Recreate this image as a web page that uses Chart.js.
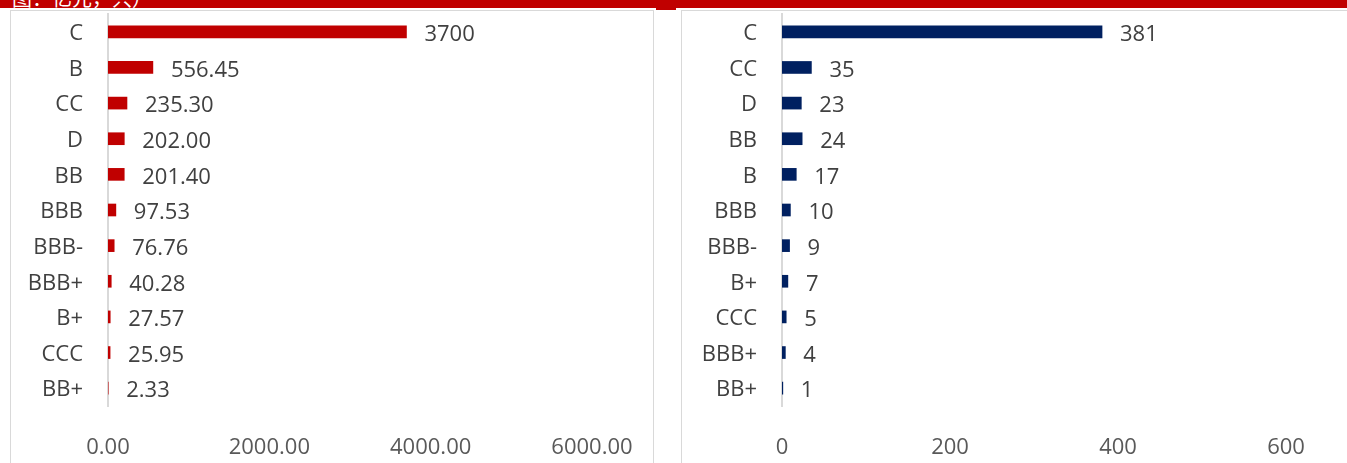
<!DOCTYPE html>
<html>
<head>
<meta charset="utf-8">
<script src="https://cdn.jsdelivr.net/npm/chart.js@4.4.1/dist/chart.umd.min.js"></script>
<style>
  body { margin: 0; background: #fff; width: 1347px; height: 463px; overflow: hidden; position: relative; }
  .band { position: absolute; left: 0; top: 0; width: 1347px; height: 8px; background: #c00000; overflow: hidden; }
  .band span { position: absolute; left: 12px; top: -17px; color: #fff; font: 20px "Noto Sans CJK SC", sans-serif; white-space: nowrap; }
  .notch { position: absolute; left: 656px; top: 0; width: 20px; height: 10px; background: #c00000; }
  .panel { position: absolute; top: 10px; height: 470px; border: 1px solid #d9d9d9; box-sizing: border-box; }
  canvas { position: absolute; }
</style>
</head>
<body>
<div class="band"><span>图：亿元，只）</span></div>
<div class="notch"></div>
<div class="panel" style="left:10px; width:644px;"></div>
<div class="panel" style="left:681px; width:680px;"></div>
<canvas id="leftChart" style="left:9px; top:10px; width:645px; height:453px;" width="645" height="453"></canvas>
<canvas id="rightChart" style="left:681px; top:10px; width:666px; height:453px;" width="666" height="453"></canvas>
<script>
// left chart: amount by rating (亿元)
const leftCategories = ['C', 'B', 'CC', 'D', 'BB', 'BBB', 'BBB-', 'BBB+', 'B+', 'CCC', 'BB+'];
const leftValues = [3700, 556.45, 235.30, 202.00, 201.40, 97.53, 76.76, 40.28, 27.57, 25.95, 2.33];
const leftValueText = ['3700', '556.45', '235.30', '202.00', '201.40', '97.53', '76.76', '40.28', '27.57', '25.95', '2.33'];

// right chart: count by rating (只)
const rightCategories = ['C', 'CC', 'D', 'BB', 'B', 'BBB', 'BBB-', 'B+', 'CCC', 'BBB+', 'BB+'];
const rightValues = [381, 35, 23, 24, 17, 10, 9, 7, 5, 4, 1];

const fontFamily = '"Open Sans", sans-serif';
const textColor = '#404040';

// draws the value text just right of each bar
const valueLabels = {
    id: 'valueLabels',
    afterDatasetsDraw(chart, args, opts) {
        const ctx = chart.ctx;
        const meta = chart.getDatasetMeta(0);
        ctx.save();
        ctx.font = '22px ' + fontFamily;
        ctx.fillStyle = textColor;
        ctx.textBaseline = 'middle';
        ctx.textAlign = 'left';
        meta.data.forEach((bar, i) => {
            ctx.fillText(opts.texts[i], bar.x + 18, bar.y + 3);
        });
        ctx.restore();
    }
};

function makeChart(id, categories, values, texts, color, max, step, yWidth, rightPad, fmt) {
    return new Chart(document.getElementById(id).getContext('2d'), {
        type: 'bar',
        data: {
            labels: categories,
            datasets: [{
                data: values,
                backgroundColor: color,
                barThickness: 12
            }]
        },
        options: {
            indexAxis: 'y',
            responsive: false,
            animation: false,
            layout: { padding: { top: 4, right: rightPad, left: 0, bottom: 0 } },
            plugins: {
                legend: { display: false },
                tooltip: { enabled: false },
                valueLabels: { texts: texts }
            },
            scales: {
                x: {
                    min: 0,
                    max: max,
                    grid: { display: false },
                    border: { display: false },
                    ticks: {
                        stepSize: step,
                        padding: 21,
                        color: '#595959',
                        font: { size: 22, family: fontFamily },
                        callback: fmt
                    },
                    afterFit: s => { s.height = 57; }
                },
                y: {
                    grid: { display: false },
                    border: { display: true, color: '#d9d9d9', width: 2 },
                    ticks: {
                        padding: 17,
                        labelOffset: 2,
                        color: textColor,
                        font: { size: 22, family: fontFamily }
                    },
                    afterFit: s => {
                        s.width = yWidth;
                        s.paddingTop = 0;
                        s.paddingBottom = 0;
                    }
                }
            }
        },
        plugins: [valueLabels]
    });
}

makeChart('leftChart', leftCategories, leftValues, leftValueText, '#c00000', 6000, 2000, 99, 62,
    v => Number(v).toFixed(2));
makeChart('rightChart', rightCategories, rightValues, rightValues.map(String), '#002060', 600, 200, 101, 61,
    v => String(v));
</script>
</body>
</html>
